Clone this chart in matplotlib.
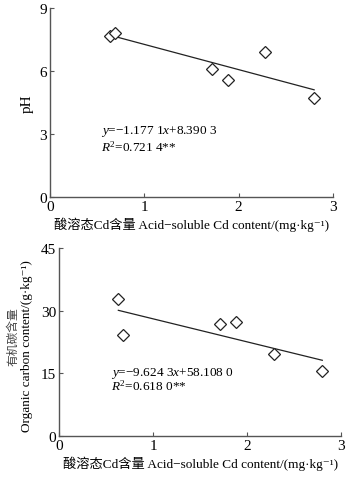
import numpy as np
import matplotlib
matplotlib.use('Agg')
import matplotlib.pyplot as plt

plt.rcParams['font.family'] = ['Liberation Serif', 'Noto Sans CJK SC', 'DejaVu Serif']
plt.rcParams['mathtext.fontset'] = 'custom'
plt.rcParams['mathtext.rm'] = 'Liberation Serif'
plt.rcParams['mathtext.it'] = 'Liberation Serif:italic'

# acid-soluble Cd (mg/kg) and soil properties
cd_ph = [0.64, 0.69, 1.72, 1.89, 2.28, 2.80]
ph = [7.68, 7.79, 6.10, 5.58, 6.88, 4.73]
cd_oc = [0.63, 0.68, 1.71, 1.88, 2.29, 2.80]
oc = [32.7, 24.2, 26.9, 27.3, 19.6, 15.5]

eq_ph = ['$y$=\u22121.177 1$x$+8.390 3', '$R^2$=0.721 4**']
eq_oc = ['$y$=\u22129.624 3$x$+58.108 0', '$R^2$=0.618 0**']

xlabel = '酸溶态Cd含量 Acid\u2212soluble Cd content/(mg·kg\u207b\u00b9)'

fig = plt.figure(figsize=(3.52, 4.81), dpi=100)
ax1 = fig.add_axes([0.142, 0.5884, 0.804, 0.393])
ax2 = fig.add_axes([0.168, 0.0915, 0.801, 0.391])


def panel(ax, x, y, ymax, eq, eq_pos):
    ax.plot(x, y, 'D', ms=6, mfc='white', mec='#222222', mew=0.9, zorder=3)
    k, b = np.polyfit(x, y, 1)
    xs = np.array([min(x), max(x)])
    ax.plot(xs, k * xs + b, color='#222222', lw=0.9)
    ax.set_xlim(0, 3)
    ax.set_ylim(0, ymax)
    ax.set_xticks([0, 1, 2, 3])
    ax.set_yticks(np.linspace(0, ymax, 4))
    for s in ['top', 'right']:
        ax.spines[s].set_visible(False)
    for s in ['left', 'bottom']:
        ax.spines[s].set_color('#555555')
        ax.spines[s].set_linewidth(1.0)
    ax.tick_params(direction='in', length=3, color='#555555', labelsize=11, pad=2)
    ax.set_xlabel(xlabel, fontsize=9.5, labelpad=3)
    ax.text(eq_pos[0], eq_pos[1], eq[0], fontsize=9.5)
    ax.text(eq_pos[0], eq_pos[2], eq[1], fontsize=9.5)


panel(ax1, cd_ph, ph, 9, eq_ph, (0.54, 3.06, 2.23))
panel(ax2, cd_oc, oc, 45, eq_oc, (0.55, 14.65, 11.0))
ax1.set_ylabel('pH', fontsize=11, labelpad=4)

fig.text(0.037, 0.301, '有机碳含量', rotation=90, fontsize=8.5,
         ha='center', va='center', color='#444444')
fig.text(0.077, 0.281, 'Organic carbon content/(g·kg\u207b\u00b9)', rotation=90,
         fontsize=9.5, ha='center', va='center')

fig.savefig('out.png', dpi=100)
